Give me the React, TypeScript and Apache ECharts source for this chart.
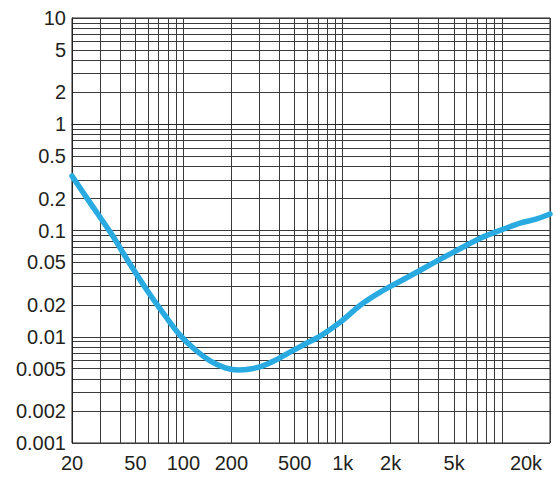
import React, { useEffect, useRef } from "react";
import * as echarts from "echarts";

// Frequency (Hz) and level
const freqHz = [20, 26, 35, 46, 62, 77, 95, 119, 148, 183, 221, 263, 313, 378, 470, 584, 726, 970, 1295, 1730, 2310, 3090, 4130, 5510, 7360, 9840, 13150, 16330, 20000];
const levels = [0.326, 0.182, 0.095, 0.049, 0.0247, 0.0157, 0.0104, 0.0075, 0.0059, 0.0051, 0.00486, 0.00497, 0.0053, 0.006, 0.0072, 0.0086, 0.0102, 0.0138, 0.0199, 0.0264, 0.0335, 0.0425, 0.054, 0.068, 0.085, 0.101, 0.118, 0.128, 0.143];

const xTickLabels = [20, 50, 100, 200, 500, 1000, 2000, 5000, 20000];
const xLabelText = ["20", "50", "100", "200", "500", "1k", "2k", "5k", "20k"];
const yTickLabels = [0.001, 0.002, 0.005, 0.01, 0.02, 0.05, 0.1, 0.2, 0.5, 1, 2, 5, 10];
const yLabelText = ["0.001", "0.002", "0.005", "0.01", "0.02", "0.05", "0.1", "0.2", "0.5", "1", "2", "5", "10"];

function logGrid(from: number, to: number): number[] {
  const out: number[] = [];
  for (let d = Math.pow(10, Math.floor(Math.log10(from))); d <= to; d *= 10) {
    for (let m = 1; m <= 9; m++) {
      const v = m * d;
      if (v >= from * 0.9999 && v <= to * 1.0001) out.push(Math.log10(v));
    }
  }
  return out;
}

function nearestLabel(v: number, vals: number[], texts: string[]): string {
  let best = 0;
  let bd = Infinity;
  vals.forEach((t, i) => {
    const d = Math.abs(Math.log10(t) - v);
    if (d < bd) { bd = d; best = i; }
  });
  return texts[best];
}

const FONT = "'Liberation Sans', Arial, Helvetica, sans-serif";

export default function App() {
  const ref = useRef<HTMLDivElement>(null);
  useEffect(() => {
    document.body.style.margin = "0";
    if (!ref.current) return;
    const chart = echarts.init(ref.current, undefined, { renderer: "svg" });
    const gridLine = { show: true, lineStyle: { color: "#3a3a3a", width: 1 } };
    chart.setOption({
      animation: false,
      backgroundColor: "#ffffff",
      grid: { left: 72, right: 6, top: 18, bottom: 38, show: true, borderColor: "#222", borderWidth: 1, backgroundColor: "transparent" },
      xAxis: {
        type: "value",
        min: Math.log10(20),
        max: Math.log10(20000),
        axisLine: { show: true, lineStyle: { color: "#222", width: 1 } },
        axisTick: { show: false, customValues: logGrid(20, 20000) },
        splitLine: gridLine,
        axisLabel: {
          customValues: xTickLabels.map((v) => Math.log10(v)),
          margin: 10,
          fontSize: 20,
          fontFamily: FONT,
          color: "#231f20",
          formatter: (v: number) => {
            const t = nearestLabel(v, xTickLabels, xLabelText);
            return t === "20k" ? "{last|" + t + "}" : t;
          },
          rich: { last: { fontSize: 20, fontFamily: FONT, color: "#231f20", padding: [0, 48, 0, 0] } },
        },
      },
      yAxis: {
        type: "value",
        min: -3,
        max: 1,
        axisLine: { show: true, lineStyle: { color: "#222", width: 1 } },
        axisTick: { show: false, customValues: logGrid(0.001, 10) },
        splitLine: gridLine,
        axisLabel: {
          customValues: yTickLabels.map((v) => Math.log10(v)),
          margin: 6,
          fontSize: 20,
          fontFamily: FONT,
          color: "#231f20",
          formatter: (v: number) => nearestLabel(v, yTickLabels, yLabelText),
        },
      },
      series: [
        {
          type: "line",
          data: freqHz.map((f, i) => [Math.log10(f), Math.log10(levels[i])]),
          smooth: 0.3,
          symbol: "none",
          lineStyle: { color: "#29abe2", width: 5.5, cap: "round", join: "round" },
          z: 5,
        },
      ],
    });
    return () => chart.dispose();
  }, []);
  return <div ref={ref} style={{ width: 556, height: 481 }} />;
}
